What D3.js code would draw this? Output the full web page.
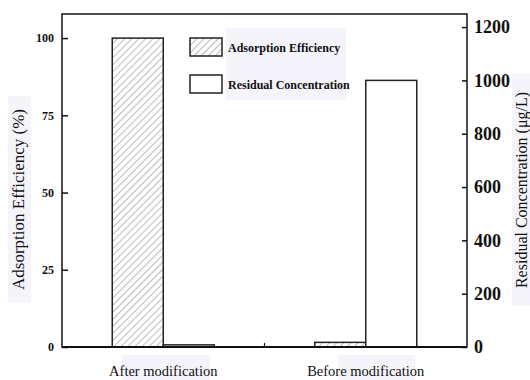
<!DOCTYPE html>
<html>
<head>
<meta charset="utf-8">
<script src="https://cdn.jsdelivr.net/npm/d3@7"></script>
<style>
  html, body { margin: 0; padding: 0; background: #fff; }
  svg { display: block; font-family: "Liberation Serif", "Times New Roman", serif; }
</style>
</head>
<body>
<svg id="chart" width="530" height="380"></svg>
<script>
// Chart data
const categories = ["After modification", "Before modification"];
const efficiency = [100, 1.5];          // Adsorption Efficiency (%)
const residual = [8, 1000];             // Residual Concentration (µg/L)
const leftTicks = [0, 25, 50, 75, 100];
const rightTicks = [0, 200, 400, 600, 800, 1000, 1200];
const seriesNames = ["Adsorption Efficiency", "Residual Concentration"];

const SERIF = "Liberation Serif, Times New Roman, serif";
const svg = d3.select("#chart");
const frame = { left: 62, right: 467, top: 14, bottom: 347 };

const x = d3.scaleBand().domain(categories).range([frame.left, frame.right]);
const xInner = d3.scaleBand().domain(seriesNames).range([0, x.bandwidth()]).paddingOuter(0.985);
const yLeft = d3.scaleLinear().domain([0, 107.8]).range([frame.bottom, frame.top]);
const yRight = d3.scaleLinear().domain([0, 1249]).range([frame.bottom, frame.top]);

// faint shaded boxes behind the text blocks
const shade = "#f5f4fb";
svg.append("rect").attr("x", 8).attr("y", 96).attr("width", 23).attr("height", 206).attr("fill", shade);
svg.append("rect").attr("x", 226).attr("y", 28).attr("width", 120).attr("height", 72).attr("fill", shade);
svg.append("rect").attr("x", 512).attr("y", 74).attr("width", 18).attr("height", 232).attr("fill", shade);
svg.append("rect").attr("x", 122).attr("y", 355).attr("width", 88).attr("height", 25).attr("fill", shade);
svg.append("rect").attr("x", 338).attr("y", 355).attr("width", 77).attr("height", 25).attr("fill", shade);

// diagonal hatch fill
const defs = svg.append("defs");
const pat = defs.append("pattern")
  .attr("id", "hatch")
  .attr("patternUnits", "userSpaceOnUse")
  .attr("width", 5).attr("height", 5)
  .attr("patternTransform", "rotate(45)");
pat.append("rect").attr("width", 5).attr("height", 5).attr("fill", "#fff");
pat.append("line").attr("x1", 0).attr("y1", 0).attr("x2", 0).attr("y2", 5)
  .attr("stroke", "#7a7a7a").attr("stroke-width", 1);

// bars
const g = svg.append("g");
categories.forEach((c, i) => {
  const x0 = x(c);
  g.append("rect")
    .attr("x", x0 + xInner(seriesNames[0]))
    .attr("y", yLeft(efficiency[i]))
    .attr("width", xInner.bandwidth())
    .attr("height", yLeft(0) - yLeft(efficiency[i]))
    .attr("fill", "url(#hatch)")
    .attr("stroke", "#222").attr("stroke-width", 1.5);
  g.append("rect")
    .attr("x", x0 + xInner(seriesNames[1]))
    .attr("y", yRight(residual[i]))
    .attr("width", xInner.bandwidth())
    .attr("height", yRight(0) - yRight(residual[i]))
    .attr("fill", "#fff")
    .attr("stroke", "#222").attr("stroke-width", 1.5);
});

// left axis
const axL = svg.append("g")
  .attr("transform", `translate(${frame.left},0)`)
  .call(d3.axisLeft(yLeft).tickValues(leftTicks).tickFormat(d3.format("d")).tickSize(-6).tickPadding(8))
  .attr("font-family", SERIF);
axL.select(".domain").remove();
axL.selectAll("line").attr("stroke", "#111").attr("stroke-width", 1.5);
axL.selectAll("text").attr("font-weight", "bold").attr("font-size", 12).attr("fill", "#111");

// right axis
const axR = svg.append("g")
  .attr("transform", `translate(${frame.right},0)`)
  .call(d3.axisRight(yRight).tickValues(rightTicks).tickFormat(d3.format("d")).tickSize(-5).tickPadding(7))
  .attr("font-family", SERIF);
axR.select(".domain").remove();
axR.selectAll("line").attr("stroke", "#111").attr("stroke-width", 1.5);
axR.selectAll("text").attr("font-weight", "bold").attr("font-size", 18).attr("fill", "#111");

// bottom axis labels
const axB = svg.append("g")
  .attr("transform", `translate(0,${frame.bottom})`)
  .call(d3.axisBottom(x).tickSize(0).tickPadding(19))
  .attr("font-family", SERIF);
axB.select(".domain").remove();
axB.selectAll("text").attr("font-size", 14.5).attr("fill", "#111");

// boundary tick between the two groups
svg.append("line")
  .attr("x1", x(categories[1])).attr("x2", x(categories[1]))
  .attr("y1", frame.bottom).attr("y2", frame.bottom - 4)
  .attr("stroke", "#111").attr("stroke-width", 1.2);

// plot frame
svg.append("rect")
  .attr("x", frame.left).attr("y", frame.top)
  .attr("width", frame.right - frame.left).attr("height", frame.bottom - frame.top)
  .attr("fill", "none").attr("stroke", "#111").attr("stroke-width", 1.5);
svg.append("line")
  .attr("x1", frame.left).attr("x2", frame.right)
  .attr("y1", frame.bottom).attr("y2", frame.bottom)
  .attr("stroke", "#111").attr("stroke-width", 2);

// axis titles
svg.append("text")
  .attr("transform", `translate(24,${(frame.top + frame.bottom) / 2 + 19}) rotate(-90)`)
  .attr("text-anchor", "middle")
  .attr("font-size", 17).attr("fill", "#111")
  .text("Adsorption Efficiency (%)");
svg.append("text")
  .attr("transform", `translate(527,190) rotate(-90)`)
  .attr("text-anchor", "middle")
  .attr("font-size", 16).attr("fill", "#111")
  .text("Residual Concentration (μg/L)");

// legend
const legend = svg.append("g").attr("transform", "translate(190,38)");
seriesNames.forEach((name, i) => {
  const row = legend.append("g").attr("transform", `translate(0,${i * 37})`);
  row.append("rect")
    .attr("width", 32).attr("height", 18)
    .attr("fill", i === 0 ? "url(#hatch)" : "#fff")
    .attr("stroke", "#222").attr("stroke-width", 1.5);
  row.append("text")
    .attr("x", 38).attr("y", 13.5)
    .attr("font-size", 12).attr("font-weight", "bold").attr("fill", "#111")
    .text(name);
});
</script>
</body>
</html>
